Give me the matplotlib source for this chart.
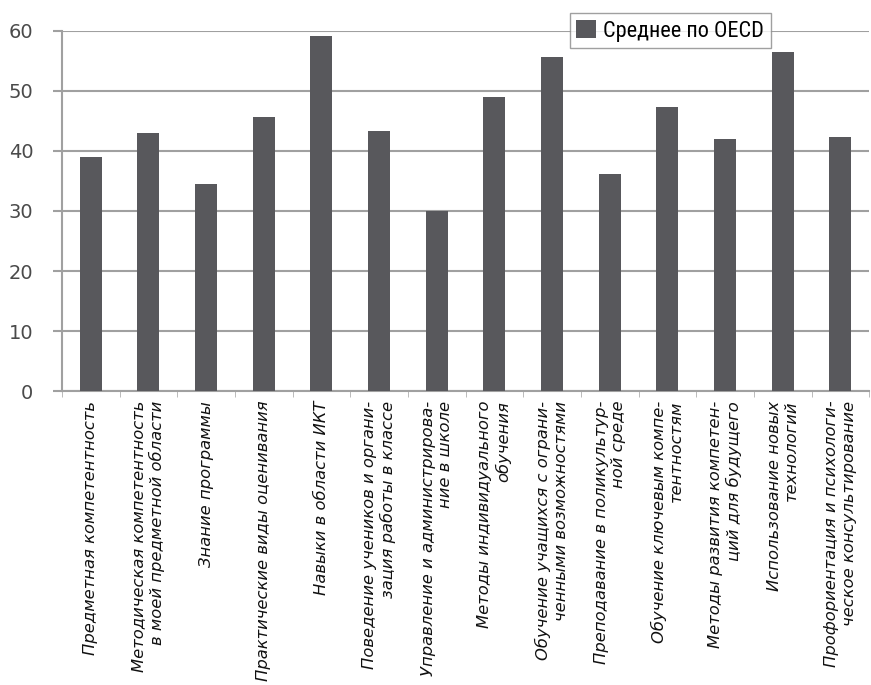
import matplotlib
matplotlib.use("Agg")
import matplotlib.pyplot as plt
import numpy as np

plt.rcParams['font.family'] = ['DejaVu Sans']

# categories (x tick labels) and OECD averages
categories = [
    "Предметная компетентность",
    "Методическая компетентность\nв моей предметной области",
    "Знание программы",
    "Практические виды оценивания",
    "Навыки в области ИКТ",
    "Поведение учеников и органи-\nзация работы в классе",
    "Управление и администрирова-\nние в школе",
    "Методы индивидуального\nобучения",
    "Обучение учащихся с ограни-\nченными возможностями",
    "Преподавание в поликультур-\nной среде",
    "Обучение ключевым компе-\nтентностям",
    "Методы развития компетен-\nций для будущего",
    "Использование новых\nтехнологий",
    "Профориентация и психологи-\nческое консультирование",
]
oecd_avg = [39.0, 43.0, 34.5, 45.7, 59.2, 43.4, 30.0, 49.0, 55.7, 36.2, 47.3, 42.0, 56.5, 42.3]
yticks = [0, 10, 20, 30, 40, 50, 60]
series_name = "Среднее по OECD"

fig = plt.figure(figsize=(8.71, 6.85), dpi=100)
ax = fig.add_axes([0.071, 0.429, 0.927, 0.526])

x = np.arange(len(categories))
ax.bar(x, oecd_avg, width=0.38, color="#58585c", label=series_name, zorder=3)

ax.set_xlim(-0.5, len(categories) - 0.5)
ax.set_ylim(0, 60)
ax.set_yticks(yticks)
ax.tick_params(axis='y', labelsize=14, labelcolor="#4a4a4a", length=6.5,
               color="#a0a0a0", width=1.5, pad=14)
ax.grid(axis='y', color="#a0a0a0", linewidth=1.5, zorder=0)

# category labels
ax.set_xticks(x)
ax.set_xticklabels(categories, rotation=90, ha='center', va='top',
                   multialignment='right', fontsize=11.8, style='italic',
                   color="#111111", linespacing=1.2)
ax.tick_params(axis='x', length=0, pad=7)
ax.set_xticks(np.arange(len(categories) + 1) - 0.5, minor=True)
ax.tick_params(axis='x', which='minor', length=4, color="#b0b0b0")

for side in ['top', 'right']:
    ax.spines[side].set_visible(False)
ax.spines['left'].set_color("#a0a0a0")
ax.spines['left'].set_linewidth(1.5)
ax.spines['bottom'].set_color("#a0a0a0")
ax.spines['bottom'].set_linewidth(1.5)

leg = ax.legend(loc='upper left', bbox_to_anchor=(0.654, 0.981),
                bbox_transform=fig.transFigure,
                frameon=True, fancybox=False, handlelength=0.9,
                handleheight=0.9, handletextpad=0.3, borderpad=0.3,
                borderaxespad=0,
                prop={'family': ['Roboto Condensed', 'Liberation Sans Narrow', 'Roboto'], 'size': 16})
leg.get_frame().set_edgecolor("#888888")
leg.get_frame().set_linewidth(1.0)

fig.savefig("out.png", dpi=100)
